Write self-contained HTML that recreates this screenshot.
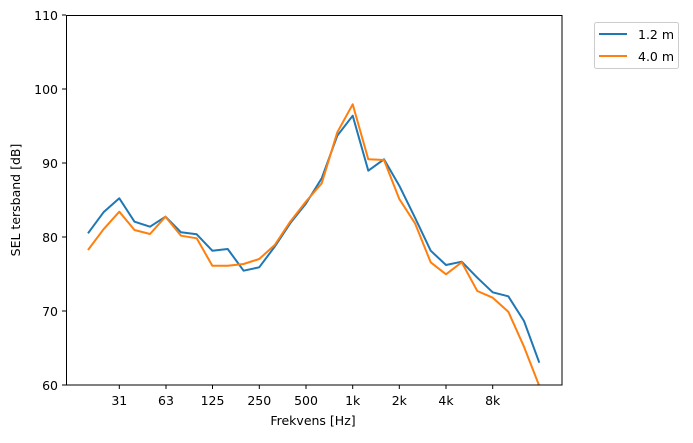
<!DOCTYPE html>
<html><head><meta charset="utf-8"><style>body{margin:0;background:#fff}svg text{font-family:"DejaVu Sans","Liberation Sans",sans-serif;font-size:12.5px;fill:#000}</style></head><body>
<svg width="693" height="438" xmlns="http://www.w3.org/2000/svg">
<rect width="693" height="438" fill="#fff"/>
<g stroke="#000" stroke-width="1">
<line x1="66" y1="311" x2="62" y2="311"/><line x1="66" y1="237" x2="62" y2="237"/><line x1="66" y1="163" x2="62" y2="163"/><line x1="66" y1="89" x2="62" y2="89"/><line x1="66" y1="15" x2="62" y2="15"/><line x1="66" y1="385" x2="62" y2="385"/>
<line x1="119.3" y1="385" x2="119.3" y2="389"/><line x1="166" y1="385" x2="166" y2="389"/><line x1="212.5" y1="385" x2="212.5" y2="389"/><line x1="259.3" y1="385" x2="259.3" y2="389"/><line x1="306" y1="385" x2="306" y2="389"/><line x1="352.7" y1="385" x2="352.7" y2="389"/><line x1="399.3" y1="385" x2="399.3" y2="389"/><line x1="446" y1="385" x2="446" y2="389"/><line x1="492.7" y1="385" x2="492.7" y2="389"/>
</g>
<g text-anchor="end"><text x="58" y="390">60</text><text x="58" y="316">70</text><text x="58" y="242">80</text><text x="58" y="168">90</text><text x="58" y="94">100</text><text x="58" y="20">110</text></g>
<g text-anchor="middle"><text x="119.3" y="405">31</text><text x="166" y="405">63</text><text x="212.5" y="405">125</text><text x="259.3" y="405">250</text><text x="306" y="405">500</text><text x="352.7" y="405">1k</text><text x="399.3" y="405">2k</text><text x="446" y="405">4k</text><text x="492.7" y="405">8k</text>
<text x="313" y="425">Frekvens [Hz]</text></g>
<text transform="translate(20,200) rotate(-90)" text-anchor="middle">SEL tersband [dB]</text>
<svg x="66" y="15" width="496" height="370" overflow="hidden"><g transform="translate(-66,-15)" fill="none" stroke-width="2" stroke-linejoin="round">
<polyline stroke="#1f77b4" points="88,233.3 103.5,212.3 119.3,198.3 134.5,221.7 150,226.7 165.5,216.7 181,232.3 196.7,234.3 212.3,250.7 227.7,249 243.6,270.7 259.2,267.3 274.7,246.7 290.2,223.3 306,203.5 321.7,178.3 337.3,135.7 352.7,115.7 368.3,170.7 384,159.3 399.3,185.7 415,217.7 430.7,250.7 446,265 461.7,261.7 477.3,277.7 492.7,292.3 508.3,296.3 524,321 539.3,362.7"/>
<polyline stroke="#ff7f0e" points="88,250 103.5,229.3 119.3,211.7 134.5,230 150,234 165.5,216.7 181,235.7 196.7,238.3 212.3,265.7 227.7,265.7 243.6,264 259.2,259 274.7,245 290.2,221.7 306,201.5 321.7,183.3 337.3,132.3 352.7,104.3 368.3,159.3 384,160 399.3,199 415,223.3 430.7,262.3 446,274.3 461.7,262.3 477.3,291 492.7,297.7 508.3,311.7 524,346.7 539.3,386"/>
</g></svg>
<rect x="66.5" y="15.5" width="495.5" height="369.5" fill="none" stroke="#000" stroke-width="1"/>
<rect x="594.5" y="22.5" width="84" height="46" rx="2" fill="#fff" stroke="#ccc"/>
<line x1="599" y1="34" x2="627" y2="34" stroke="#1f77b4" stroke-width="2"/>
<line x1="599" y1="56" x2="627" y2="56" stroke="#ff7f0e" stroke-width="2"/>
<text x="638" y="39">1.2 m</text><text x="638" y="61">4.0 m</text>
</svg>
</body></html>
